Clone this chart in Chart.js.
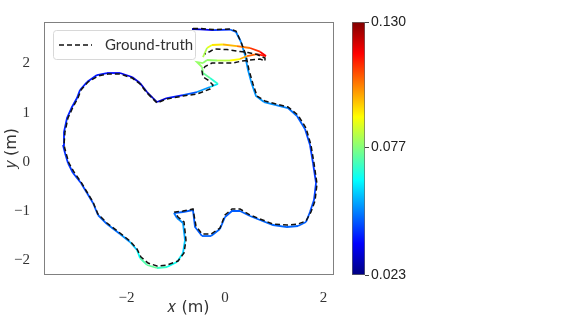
<!DOCTYPE html>
<html>
<head>
<meta charset="utf-8">
<script src="https://cdn.jsdelivr.net/npm/chart.js@4.4.1/dist/chart.umd.min.js"></script>
<style>
    body { margin: 0; background: #fff; }
    #wrap { position: relative; width: 562px; height: 327px; }
    #wrap canvas { position: absolute; left: 0; top: 0; }
</style>
</head>
<body>
<div id="wrap">
    <canvas id="traj" width="562" height="327"></canvas>
    <canvas id="cbar" width="562" height="327"></canvas>
</div>
<script>
    "use strict";

    // Estimated trajectory (m) and its error (m)
    var estX = [-0.670, -0.508, -0.244, 0.102, 0.223, 0.325, 0.406, 0.467, 0.538, 0.629,
        0.792, 1.036, 1.279, 1.462, 1.624, 1.726, 1.787, 1.848, 1.807, 1.726,
        1.645, 1.482, 1.259, 0.975, 0.711, 0.508, 0.305, 0.142, 0.000, -0.102,
        -0.284, -0.467, -0.609, -0.650, -0.853, -1.036, -0.975, -0.853, -0.812, -0.853,
        -0.975, -1.178, -1.381, -1.584, -1.726, -1.787, -1.929, -2.132, -2.396, -2.579,
        -2.680, -2.802, -2.924, -3.086, -3.188, -3.249, -3.289, -3.269, -3.208, -3.107,
        -3.005, -2.944, -2.802, -2.599, -2.396, -2.132, -1.888, -1.726, -1.584, -1.462,
        -1.381, -1.178, -0.853, -0.569, -0.305, -0.142, -0.305, -0.447, -0.467, -0.569,
        -0.447, -0.365, -0.162, 0.102, 0.305, 0.447, 0.650, 0.832, 0.711, 0.508,
        0.244, -0.041, -0.264, -0.365, -0.447];
    var estY = [2.701, 2.694, 2.680, 2.690, 2.640, 2.437, 2.173, 1.868, 1.604, 1.340,
        1.218, 1.157, 1.096, 0.934, 0.670, 0.345, -0.020, -0.426, -0.772, -1.015,
        -1.218, -1.299, -1.320, -1.279, -1.178, -1.096, -0.995, -0.995, -1.117, -1.360,
        -1.503, -1.503, -1.320, -0.975, -1.015, -1.036, -1.137, -1.239, -1.584, -1.848,
        -2.030, -2.132, -2.152, -2.091, -1.949, -1.787, -1.624, -1.462, -1.259, -1.076,
        -0.832, -0.629, -0.426, -0.223, -0.020, 0.183, 0.345, 0.609, 0.893, 1.117,
        1.299, 1.462, 1.624, 1.766, 1.807, 1.807, 1.726, 1.604, 1.421, 1.299,
        1.218, 1.299, 1.360, 1.421, 1.523, 1.584, 1.706, 1.807, 1.929, 2.030,
        2.010, 2.071, 2.061, 2.061, 2.091, 2.152, 2.193, 2.152, 2.240, 2.315,
        2.355, 2.386, 2.376, 2.315, 2.132];
    var estErr = [0.026, 0.032, 0.038, 0.044, 0.048, 0.051, 0.052, 0.052, 0.052, 0.052,
        0.052, 0.051, 0.049, 0.047, 0.045, 0.043, 0.042, 0.042, 0.044, 0.045,
        0.046, 0.047, 0.047, 0.047, 0.047, 0.047, 0.046, 0.046, 0.046, 0.047,
        0.047, 0.046, 0.046, 0.046, 0.046, 0.047, 0.050, 0.052, 0.055, 0.060,
        0.063, 0.066, 0.072, 0.075, 0.068, 0.060, 0.054, 0.049, 0.047, 0.046,
        0.045, 0.044, 0.043, 0.042, 0.042, 0.041, 0.040, 0.040, 0.040, 0.040,
        0.040, 0.040, 0.039, 0.039, 0.038, 0.036, 0.033, 0.031, 0.029, 0.028,
        0.027, 0.036, 0.042, 0.049, 0.056, 0.064, 0.072, 0.076, 0.078, 0.080,
        0.078, 0.078, 0.080, 0.085, 0.095, 0.103, 0.110, 0.118, 0.115, 0.108,
        0.100, 0.095, 0.090, 0.085, 0.078];

    // Ground truth (m)
    var gtX = [-0.650, -0.508, -0.244, 0.102, 0.223, 0.325, 0.426, 0.487, 0.569, 0.650,
        0.812, 1.036, 1.279, 1.482, 1.645, 1.746, 1.807, 1.868, 1.827, 1.746,
        1.645, 1.482, 1.259, 0.975, 0.711, 0.508, 0.305, 0.142, 0.000, -0.102,
        -0.284, -0.467, -0.589, -0.650, -0.853, -1.015, -0.954, -0.832, -0.792, -0.832,
        -0.954, -1.178, -1.381, -1.563, -1.706, -1.787, -1.929, -2.132, -2.396, -2.579,
        -2.680, -2.802, -2.924, -3.066, -3.168, -3.228, -3.269, -3.249, -3.188, -3.086,
        -2.985, -2.924, -2.782, -2.579, -2.376, -2.132, -1.888, -1.726, -1.584, -1.462,
        -1.381, -1.178, -0.853, -0.569, -0.305, -0.244, -0.345, -0.447, -0.467, -0.406,
        -0.264, -0.041, 0.162, 0.345, 0.508, 0.711, 0.812, 0.812, 0.650, 0.467,
        0.305, 0.041, -0.223, -0.305, -0.406];
    var gtY = [2.711, 2.711, 2.690, 2.701, 2.660, 2.437, 2.173, 1.868, 1.584, 1.340,
        1.239, 1.178, 1.117, 0.954, 0.690, 0.345, -0.020, -0.447, -0.792, -1.015,
        -1.198, -1.259, -1.279, -1.259, -1.157, -1.076, -0.954, -0.954, -1.076, -1.340,
        -1.462, -1.462, -1.299, -0.954, -0.995, -1.015, -1.117, -1.218, -1.584, -1.848,
        -2.010, -2.091, -2.112, -2.051, -1.929, -1.766, -1.604, -1.442, -1.239, -1.056,
        -0.812, -0.609, -0.406, -0.203, -0.020, 0.183, 0.345, 0.609, 0.893, 1.117,
        1.299, 1.462, 1.624, 1.746, 1.787, 1.787, 1.706, 1.584, 1.401, 1.279,
        1.198, 1.279, 1.340, 1.381, 1.482, 1.563, 1.665, 1.726, 1.848, 1.939,
        2.010, 2.010, 2.010, 2.051, 2.071, 2.091, 2.051, 2.112, 2.183, 2.223,
        2.244, 2.284, 2.294, 2.244, 2.193];

    // Axes and colour bar
    var xRange = [-3.675, 2.193];
    var yRange = [-2.274, 2.843];
    var xTicks = [-2, 0, 2];
    var yTicks = [-2, -1, 0, 1, 2];
    var errRange = [0.023, 0.130];
    var errTicks = [0.023, 0.077, 0.130];

    // Jet colormap
    var jet = function (t) {
        t = Math.max(0, Math.min(1, t));
        var c = function (v) { return Math.round(255 * Math.max(0, Math.min(1, v))); };
        return "rgb(" + c(1.5 - Math.abs(4 * t - 3)) + "," + c(1.5 - Math.abs(4 * t - 2)) + "," + c(1.5 - Math.abs(4 * t - 1)) + ")";
    };
    var errColor = function (e) {
        return jet((e - errRange[0]) / (errRange[1] - errRange[0]));
    };

    var toPoints = function (xs, ys) {
        return xs.map(function (x, i) { return {x: x, y: ys[i]}; });
    };
    var minus = function (v) { return String(v).replace("-", "\u2212"); };

    // Frame around plot area
    var framePlugin = {
        id: "frame",
        afterDatasetsDraw: function (chart) {
            var a = chart.chartArea, ctx = chart.ctx;
            ctx.save();
            ctx.strokeStyle = "#808080";
            ctx.lineWidth = 1;
            ctx.strokeRect(Math.round(a.left) + 0.5, Math.round(a.top) + 0.5, Math.round(a.right - a.left), Math.round(a.bottom - a.top));
            ctx.restore();
        }
    };

    // Legend box inside the plot
    var legendPlugin = {
        id: "boxLegend",
        afterDraw: function (chart) {
            var ctx = chart.ctx, a = chart.chartArea;
            var ds = chart.data.datasets[0];
            var x = a.left + 9, y = a.top + 8, w = 142, h = 29;
            ctx.save();
            ctx.fillStyle = "rgba(255,255,255,0.8)";
            ctx.strokeStyle = "#d8d8d8";
            ctx.lineWidth = 1;
            ctx.beginPath();
            ctx.roundRect(x + 0.5, y + 0.5, w, h, 3);
            ctx.fill();
            ctx.stroke();
            ctx.strokeStyle = ds.borderColor;
            ctx.lineWidth = ds.borderWidth;
            ctx.setLineDash(ds.borderDash);
            ctx.beginPath();
            ctx.moveTo(x + 6, y + 15);
            ctx.lineTo(x + 39, y + 15);
            ctx.stroke();
            ctx.setLineDash([]);
            ctx.fillStyle = "#333";
            ctx.font = "15px Lato";
            ctx.textBaseline = "middle";
            ctx.fillText(ds.label, x + 52, y + 15);
            ctx.restore();
        }
    };

    var tickFont = {family: "'Liberation Serif'", size: 15};
    var titleFont = {family: "'DejaVu Sans'", size: 16};

    new Chart(document.getElementById("traj"), {
        type: "scatter",
        data: {
            datasets: [{
                label: "Ground-truth",
                data: toPoints(gtX, gtY),
                showLine: true,
                borderColor: "#111",
                borderWidth: 1.5,
                borderDash: [5, 3],
                pointRadius: 0,
                order: 0
            }, {
                label: "Estimate",
                data: toPoints(estX, estY),
                showLine: true,
                borderWidth: 1.8,
                pointRadius: 0,
                order: 1,
                segment: {
                    borderColor: function (c) {
                        return errColor((estErr[c.p0DataIndex] + estErr[c.p1DataIndex]) / 2);
                    }
                }
            }]
        },
        options: {
            responsive: false,
            animation: false,
            layout: {padding: {left: 0, top: 22, right: 229, bottom: 0}},
            plugins: {legend: {display: false}, tooltip: {enabled: false}},
            scales: {
                x: {
                    type: "linear",
                    min: xRange[0],
                    max: xRange[1],
                    afterBuildTicks: function (s) { s.ticks = xTicks.map(function (v) { return {value: v}; }); },
                    afterFit: function (s) { s.height = 53; },
                    grid: {display: false},
                    border: {display: false},
                    ticks: {font: tickFont, color: "#333", padding: 7, callback: minus},
                    title: {display: true, text: "\uD835\uDC65 (m)", font: titleFont, color: "#333", padding: {top: 0, bottom: 10}}
                },
                y: {
                    type: "linear",
                    min: yRange[0],
                    max: yRange[1],
                    afterBuildTicks: function (s) { s.ticks = yTicks.map(function (v) { return {value: v}; }); },
                    afterFit: function (s) { s.width = 44; },
                    grid: {display: false},
                    border: {display: false},
                    ticks: {font: tickFont, color: "#333", padding: 6, callback: minus},
                    title: {display: true, text: "\uD835\uDC66 (m)", font: titleFont, color: "#333", padding: {top: 2, bottom: 0}}
                }
            }
        },
        plugins: [framePlugin, legendPlugin]
    });

    // Colour bar
    new Chart(document.getElementById("cbar"), {
        type: "bar",
        data: {
            labels: ["error"],
            datasets: [{
                data: [errRange],
                barPercentage: 1,
                categoryPercentage: 1,
                borderColor: "#666",
                borderWidth: 1,
                borderSkipped: false,
                backgroundColor: function (c) {
                    var a = c.chart.chartArea;
                    if (!a) return "#00f";
                    var g = c.chart.ctx.createLinearGradient(0, a.bottom, 0, a.top);
                    for (var i = 0; i <= 16; i++) g.addColorStop(i / 16, jet(i / 16));
                    return g;
                }
            }]
        },
        options: {
            responsive: false,
            animation: false,
            layout: {padding: {left: 352, top: 22, right: 147, bottom: 52}},
            plugins: {legend: {display: false}, tooltip: {enabled: false}},
            scales: {
                x: {display: false},
                y: {
                    position: "right",
                    min: errRange[0],
                    max: errRange[1],
                    afterBuildTicks: function (s) { s.ticks = errTicks.map(function (v) { return {value: v}; }); },
                    afterFit: function (s) { s.width = 50; },
                    grid: {display: true, drawOnChartArea: false, tickLength: 4, color: "#444"},
                    border: {display: false},
                    ticks: {
                        font: {family: "'Liberation Sans'", size: 14},
                        color: "#222",
                        padding: 2,
                        callback: function (v) { return v.toFixed(3); }
                    }
                }
            }
        }
    });
</script>
</body>
</html>
